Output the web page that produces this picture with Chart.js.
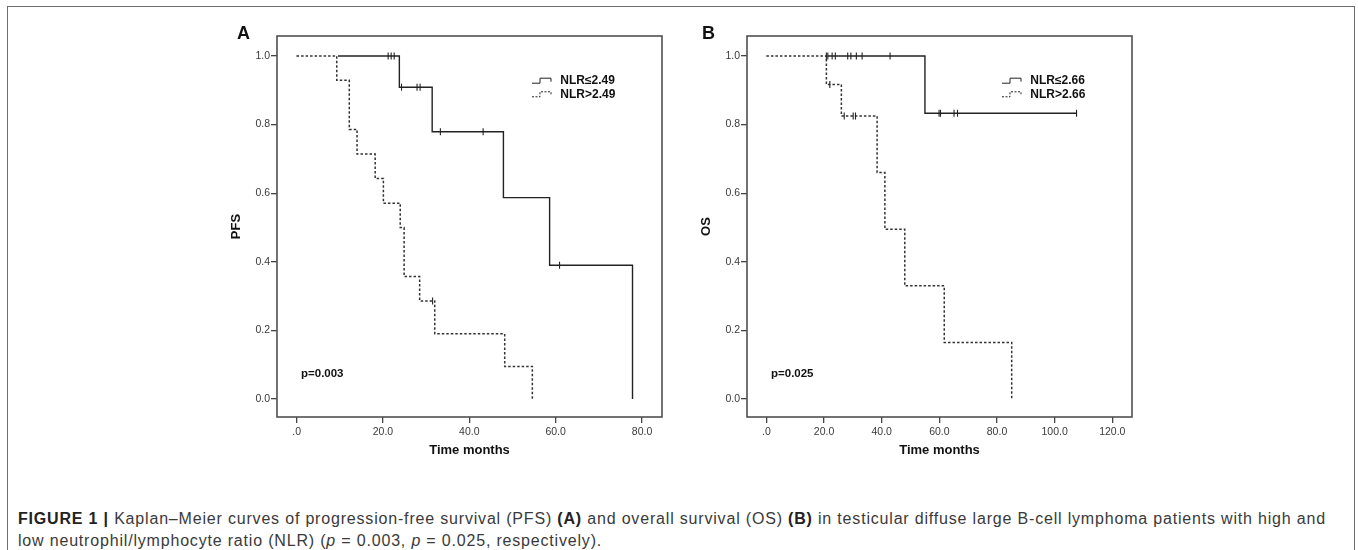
<!DOCTYPE html>
<html>
<head>
<meta charset="utf-8">
<script src="https://cdn.jsdelivr.net/npm/chart.js@4.4.1/dist/chart.umd.min.js"></script>
<style>
  body { margin: 0; background: #fff; width: 1358px; height: 550px; overflow: hidden; position: relative;
         font-family: "Liberation Sans", Arial, sans-serif; }
  .frame { position: absolute; left: 7px; top: 6px; width: 1346px; height: 600px;
           border: 1.5px solid #6e6e6e; border-bottom: none; }
  .panel { position: absolute; top: 0; }
  .letter { position: absolute; top: 23px; font: bold 18px "Liberation Sans", Arial, sans-serif; color: #111; }
  .caption { position: absolute; left: 18px; top: 508px; font-size: 16px; line-height: 22px; color: #3a3a3a;
             white-space: nowrap; }
  .caption b { color: #222; }
</style>
</head>
<body>
<div class="frame"></div>
<canvas id="chartA" class="panel" width="470" height="480" style="left:210px"></canvas>
<canvas id="chartB" class="panel" width="470" height="480" style="left:680px"></canvas>
<div class="letter" style="left:237px">A</div>
<div class="letter" style="left:702px">B</div>
<div class="caption" id="caption">
  <div id="capLine1"><b>FIGURE 1 |</b> Kaplan–Meier curves of progression-free survival (PFS) <b>(A)</b> and overall survival (OS) <b>(B)</b> in testicular diffuse large B-cell lymphoma patients with high and</div>
  <div>low neutrophil/lymphocyte ratio (NLR) (<i>p</i> = 0.003, <i>p</i> = 0.025, respectively).</div>
</div>
<script>
// Panel A - PFS, NLR cut-off 2.49 (step times in months, survival after each step)
const pfsLowTimes = [0, 23.8, 31.4, 47.9, 58.6, 77.8];
const pfsLowSurv = [1, 0.909, 0.779, 0.587, 0.39, 0];
const pfsLowCensored = [21.2, 21.9, 22.6, 24.3, 27.9, 28.6, 33.3, 43.2, 60.9];

const pfsHighTimes = [0, 9.3, 12.2, 14.0, 18.2, 20.1, 24.0, 24.9, 28.5, 32.0, 48.2, 54.6];
const pfsHighSurv = [1, 0.929, 0.786, 0.714, 0.643, 0.571, 0.5, 0.357, 0.286, 0.19, 0.095, 0];
const pfsHighCensored = [31.5];

// Panel B - OS, NLR cut-off 2.66
const osLowTimes = [0, 55.0, 107.6];
const osLowSurv = [1, 0.833, 0.833];
const osLowCensored = [20.8, 21.3, 22.8, 23.9, 28.2, 29.3, 31.2, 33.2, 42.9, 59.9, 60.4, 65.1, 66.3, 107.6];

const osHighTimes = [0, 20.8, 26.0, 38.4, 41.1, 48.0, 61.7, 85.1];
const osHighSurv = [1, 0.917, 0.825, 0.66, 0.495, 0.33, 0.165, 0];
const osHighCensored = [22.0, 27.0, 30.1, 30.9];

// Tick labels
const yTicks = [0, 0.2, 0.4, 0.6, 0.8, 1.0];
const xTicksA = [0, 20, 40, 60, 80];
const xTicksB = [0, 20, 40, 60, 80, 100, 120];

const lineColor = '#222';
const textColor = '#3a3a3a';
const fontFamily = '"Liberation Sans", Arial, sans-serif';

// survival value of a step curve at time t (used to place the censor ticks)
function survAt(times, surv, t) {
  let s = surv[0];
  for (let i = 0; i < times.length; i++) {
    if (times[i] <= t) s = surv[i];
  }
  return s;
}

function toPoints(times, surv) {
  return times.map((t, i) => ({ x: t, y: surv[i] }));
}

function censorPoints(censored, times, surv) {
  return censored.map(t => ({ x: t, y: survAt(times, surv, t) }));
}

// Frame around the plot, the inline legend and the p value
const kmDecor = {
  id: 'kmDecor',
  afterDraw(chart, args, opts) {
    const { ctx, chartArea: a } = chart;
    ctx.save();
    ctx.strokeStyle = '#505050';
    ctx.lineWidth = 1.6;
    ctx.strokeRect(a.left, a.top, a.right - a.left, a.bottom - a.top);

    opts.legend.forEach((label, i) => {
      const y = a.top + 44.7 + i * 13.6;
      const x0 = a.right - 130;
      ctx.strokeStyle = lineColor;
      ctx.lineWidth = 1;
      ctx.setLineDash(i ? [2, 1.5] : []);
      ctx.beginPath();
      ctx.moveTo(x0, y + 2.5);
      ctx.lineTo(x0 + 8, y + 2.5);
      ctx.lineTo(x0 + 8, y - 2.5);
      ctx.lineTo(x0 + 19, y - 2.5);
      ctx.lineTo(x0 + 19, y + 1);
      ctx.stroke();
      ctx.setLineDash([]);
      ctx.font = 'bold 12px ' + fontFamily;
      ctx.fillStyle = '#111';
      ctx.textBaseline = 'middle';
      ctx.fillText(label, a.right - 101.7, y);
    });

    ctx.font = 'bold 11.5px ' + fontFamily;
    ctx.fillStyle = '#111';
    ctx.textBaseline = 'middle';
    ctx.fillText(opts.pText, a.left + 24, a.bottom - 43);
    ctx.restore();
  }
};

function makePanel(id, cfg) {
  const highPoints = toPoints(cfg.highTimes, cfg.highSurv);
  new Chart(document.getElementById(id), {
    type: 'line',
    data: {
      datasets: [
        {
          type: 'scatter',
          data: censorPoints(cfg.lowCensored, cfg.lowTimes, cfg.lowSurv)
            .concat(censorPoints(cfg.highCensored, cfg.highTimes, cfg.highSurv)),
          showLine: false,
          pointStyle: 'line',
          rotation: 90,
          pointRadius: 3.5,
          borderColor: lineColor,
          borderWidth: 1.1
        },
        {
          label: cfg.legend[1],
          data: highPoints,
          stepped: true,
          borderColor: '#333',
          borderWidth: 1.5,
          borderDash: [2.5, 2],
          pointRadius: 0,
          fill: false
        },
        {
          // white backing so the dashed curve hides the solid one where they overlap
          data: highPoints,
          stepped: true,
          borderColor: '#fff',
          borderWidth: 2.5,
          pointRadius: 0,
          fill: false
        },
        {
          label: cfg.legend[0],
          data: toPoints(cfg.lowTimes, cfg.lowSurv),
          stepped: true,
          borderColor: lineColor,
          borderWidth: 1.4,
          pointRadius: 0,
          fill: false
        }
      ]
    },
    options: {
      responsive: false,
      animation: false,
      layout: { padding: { top: 36, right: 18, bottom: 22, left: 0 } },
      scales: {
        x: {
          type: 'linear',
          min: cfg.xMin,
          max: cfg.xMax,
          afterFit: s => { s.height = 41; },
          afterBuildTicks: s => { s.ticks = cfg.xTicks.map(v => ({ value: v })); },
          grid: { drawOnChartArea: false, drawTicks: true, tickLength: 6, color: '#444', lineWidth: 1.3 },
          border: { display: false },
          ticks: {
            padding: 3,
            maxRotation: 0,
            color: textColor,
            font: { family: fontFamily, size: 10.5 },
            callback: v => (v === 0 ? '.0' : v.toFixed(1))
          },
          title: {
            display: true,
            text: 'Time months',
            color: '#111',
            padding: 0,
            font: { family: fontFamily, size: 13, weight: 'bold' }
          }
        },
        y: {
          type: 'linear',
          min: -0.0525,
          max: 1.0583,
          afterFit: s => { s.width = 67; },
          afterBuildTicks: s => { s.ticks = yTicks.map(v => ({ value: v })); },
          grid: { drawOnChartArea: false, drawTicks: true, tickLength: 6, color: '#444', lineWidth: 1.3 },
          border: { display: false },
          ticks: {
            padding: 1,
            color: textColor,
            font: { family: fontFamily, size: 10.5 },
            callback: v => v.toFixed(1)
          },
          title: {
            display: true,
            text: cfg.yTitle,
            color: '#111',
            padding: { top: 19, bottom: 0 },
            font: { family: fontFamily, size: 13, weight: 'bold' }
          }
        }
      },
      plugins: {
        legend: { display: false },
        tooltip: { enabled: false },
        kmDecor: { legend: cfg.legend, pText: cfg.pText }
      }
    },
    plugins: [kmDecor]
  });
}

makePanel('chartA', {
  lowTimes: pfsLowTimes, lowSurv: pfsLowSurv, lowCensored: pfsLowCensored,
  highTimes: pfsHighTimes, highSurv: pfsHighSurv, highCensored: pfsHighCensored,
  xMin: -4.54, xMax: 84.63, xTicks: xTicksA,
  yTitle: 'PFS', legend: ['NLR≤2.49', 'NLR>2.49'], pText: 'p=0.003'
});

makePanel('chartB', {
  lowTimes: osLowTimes, lowSurv: osLowSurv, lowCensored: osLowCensored,
  highTimes: osHighTimes, highSurv: osHighSurv, highCensored: osHighCensored,
  xMin: -6.74, xMax: 126.84, xTicks: xTicksB,
  yTitle: 'OS', legend: ['NLR≤2.66', 'NLR>2.66'], pText: 'p=0.025'
});

// stretch the caption so its first line spans the same width as in the figure
const cap = document.getElementById('caption');
const line1 = document.getElementById('capLine1');
const target = 1308;
const w = line1.getBoundingClientRect().width;
const chars = line1.textContent.length;
cap.style.letterSpacing = ((target - w) / chars).toFixed(3) + 'px';
</script>
</body>
</html>
